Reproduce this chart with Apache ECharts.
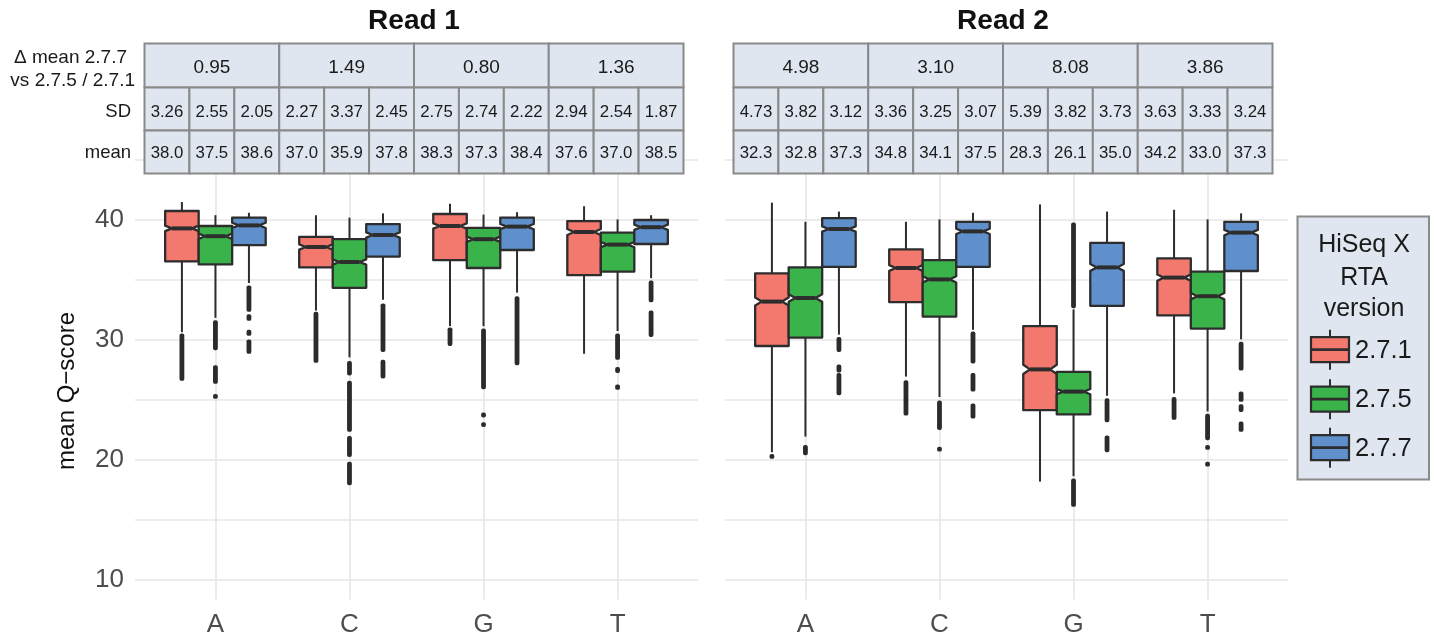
<!DOCTYPE html>
<html><head><meta charset="utf-8">
<script src="https://cdn.jsdelivr.net/npm/echarts@6/dist/echarts.min.js"></script>
<style>html,body{margin:0;padding:0;background:#fff}#c{width:1434px;height:634px}</style>
</head><body><div id="c"></div>
<script>
const categories = ['A','C','G','T'];
const versions = ['2.7.1','2.7.5','2.7.7'];
const yGridValues = [10,15,20,25,30,35,40,45];
const yTickLabels = [10,20,30,40];

// [whiskerLow, Q1, median, Q3, whiskerHigh] for A, C, G, T
const read1_v271 = [[30.6,36.5,39.25,40.7,41.45],[32.4,36.0,37.7,38.55,40.35],[31.1,36.6,39.45,40.45,41.3],[28.8,35.35,38.95,39.85,41.1]];
const read1_v275 = [[31.8,36.25,38.6,39.45,40.35],[28.5,34.3,36.45,38.35,40.15],[31.1,35.95,38.35,39.3,40.4],[30.7,35.65,37.9,38.9,40.0]];
const read1_v277 = [[34.7,37.85,39.5,40.15,40.55],[33.3,36.9,38.7,39.6,40.5],[33.9,37.45,39.4,40.15,40.6],[35.1,37.95,39.35,39.95,40.35]];
const read2_v271 = [[20.6,29.45,33.15,35.5,41.4],[26.9,33.1,35.95,37.5,39.8],[18.15,24.1,27.5,31.1,41.25],[25.5,32.0,35.15,36.75,40.8]];
const read2_v275 = [[21.9,30.15,33.45,36.0,39.8],[25.2,31.9,35.0,36.6,40.0],[18.6,23.75,25.65,27.3,32.5],[24.0,30.9,33.6,35.65,40.0]];
const read2_v277 = [[30.4,36.05,39.2,40.1,40.65],[30.8,36.05,39.0,39.8,40.55],[25.3,32.8,36.0,38.05,40.65],[30.0,35.7,38.9,39.8,40.5]];

// outliers: [categoryIndex, from, to] (runs of overlapping points)
const read1_v271_out = [[0,30.3,26.75],[1,32.1,28.25],[2,30.8,29.65]];
const read1_v275_out = [[0,31.4,29.3],[0,27.65,26.5],[0,25.25,25.25],[1,28.0,27.2],[1,26.35,22.5],[1,21.75,20.4],[1,19.6,18.05],[2,30.7,26.05],[2,23.7,23.7],[2,22.9,22.9],[3,30.3,28.5],[3,27.5,27.4],[3,26.05,26.0]];
const read1_v277_out = [[0,34.3,32.5],[0,31.9,31.75],[0,30.6,30.5],[0,29.8,29.0],[1,32.8,29.15],[1,28.1,26.95],[2,33.4,28.05],[3,34.7,33.3],[3,32.2,30.4]];
const read2_v271_out = [[0,20.25,20.25],[1,26.4,23.85],[3,25.0,23.5]];
const read2_v275_out = [[0,21.0,20.55],[1,24.7,22.65],[1,20.85,20.85],[2,39.55,32.8],[2,18.2,16.25],[3,23.6,21.8],[3,21.0,21.0],[3,19.6,19.6]];
const read2_v277_out = [[0,30.0,29.15],[0,27.7,27.45],[0,27.0,25.55],[1,30.45,28.2],[1,27.0,25.85],[1,24.45,23.6],[2,24.9,23.3],[2,21.8,20.8],[3,29.6,27.6],[3,25.45,25.0],[3,24.4,24.15],[3,22.95,22.5]];

// table values
const read1_delta = ['0.95','1.49','0.80','1.36'];
const read1_sd = [['3.26','2.55','2.05'],['2.27','3.37','2.45'],['2.75','2.74','2.22'],['2.94','2.54','1.87']];
const read1_mean = [['38.0','37.5','38.6'],['37.0','35.9','37.8'],['38.3','37.3','38.4'],['37.6','37.0','38.5']];
const read2_delta = ['4.98','3.10','8.08','3.86'];
const read2_sd = [['4.73','3.82','3.12'],['3.36','3.25','3.07'],['5.39','3.82','3.73'],['3.63','3.33','3.24']];
const read2_mean = [['32.3','32.8','37.3'],['34.8','34.1','37.5'],['28.3','26.1','35.0'],['34.2','33.0','37.3']];

const FONT = "'Liberation Sans', Arial, Helvetica, sans-serif";
const COLORS = ['#F3786E','#3AB44A','#5F90CB'];
const OFFSETS = [-0.25, 0, 0.25];
const BOX_W = 0.25;
const EDGE = '#2D2D2D';
const GRID_C = '#E6E6E6';

function boxItem(offset, color) {
  return function (params, api) {
    const x = api.value(0) + offset;
    const lo = api.value(1), q1 = api.value(2), med = api.value(3), q3 = api.value(4), hi = api.value(5);
    const nh = Math.max(0.22, 0.055 * (q3 - q1));
    const L = api.coord([x - BOX_W / 2, med])[0];
    const R = api.coord([x + BOX_W / 2, med])[0];
    const C = api.coord([x, med])[0];
    const Y = v => api.coord([x, v])[1];
    const ind = (R - L) * 0.2;
    const yM = Y(med), yA = Y(med + nh), yB = Y(med - nh), y3 = Y(q3), y1 = Y(q1);
    return {
      type: 'group',
      children: [
        {type:'line', shape:{x1:C,y1:Y(hi),x2:C,y2:y3}, style:{stroke:EDGE,lineWidth:2}},
        {type:'line', shape:{x1:C,y1:y1,x2:C,y2:Y(lo)}, style:{stroke:EDGE,lineWidth:2}},
        {type:'polygon', shape:{points:[[L,y3],[R,y3],[R,yA],[R-ind,yM],[R,yB],[R,y1],[L,y1],[L,yB],[L+ind,yM],[L,yA]]},
          style:{fill:color, stroke:EDGE, lineWidth:2.3, lineJoin:'round'}},
        {type:'line', shape:{x1:L+ind,y1:yM,x2:R-ind,y2:yM}, style:{stroke:EDGE,lineWidth:4}}
      ]
    };
  };
}
function outItem(offset) {
  return function (params, api) {
    const x = api.value(0) + offset;
    const a = api.value(1), b = api.value(2);
    const p1 = api.coord([x, Math.max(a, b)]);
    const p2 = api.coord([x, Math.min(a, b)]);
    const w = 4.8;
    return {type:'rect', shape:{x:p1[0]-w/2, y:p1[1]-w/2, width:w, height:p2[1]-p1[1]+w, r:1.9}, style:{fill:'#2B2B2B'}};
  };
}

const boxSets = [[read1_v271, read1_v275, read1_v277],[read2_v271, read2_v275, read2_v277]];
const outSets = [[read1_v271_out, read1_v275_out, read1_v277_out],[read2_v271_out, read2_v275_out, read2_v277_out]];

const series = [];
for (let g = 0; g < 2; g++) {
  for (let v = 0; v < 3; v++) {
    series.push({
      type:'custom', name: versions[v], xAxisIndex:g, yAxisIndex:g,
      renderItem: boxItem(OFFSETS[v], COLORS[v]),
      encode:{x:0, y:[1,2,3,4,5]},
      data: boxSets[g][v].map((b, i) => [i + 1].concat(b)),
      z: 3
    });
    series.push({
      type:'custom', name: versions[v] + ' outliers', xAxisIndex:g, yAxisIndex:g,
      renderItem: outItem(OFFSETS[v]),
      encode:{x:0, y:[1,2]},
      data: outSets[g][v].map(o => [o[0] + 1, o[1], o[2]]),
      z: 4
    });
  }
}

const grids = [
  {left:135, width:563, top:129.4, height:470.4, outerBoundsMode:'none', containLabel:false},
  {left:725, width:563, top:129.4, height:470.4, outerBoundsMode:'none', containLabel:false}
];
const xAxes = [0,1].map(g => ({
  type:'value', gridIndex:g, min:0.4, max:4.6,
  axisLine:{show:false}, axisTick:{show:false, customValues:[1,2,3,4]},
  axisLabel:{customValues:[1,2,3,4], formatter: v => categories[Math.round(v) - 1], fontSize:26, color:'#4D4D4D', margin:12, fontFamily:FONT},
  splitLine:{show:true, lineStyle:{color:GRID_C, width:1.6}}
}));
const yAxes = [0,1].map(g => ({
  type:'value', gridIndex:g, min:8.3, max:47.5,
  axisLine:{show:false}, axisTick:{show:false, customValues:yGridValues},
  axisLabel:{show:g === 0, customValues:yTickLabels, fontSize:26, color:'#4D4D4D', margin:11, fontFamily:FONT},
  splitLine:{show:true, lineStyle:{color:GRID_C, width:1.6}}
}));

function txt(t, x, y, size, opts) {
  opts = opts || {};
  return {type:'text', x:x, y:y, z:100, rotation: opts.rotation || 0,
    style:{text:t, font:(opts.bold ? 'bold ' : '') + size + 'px ' + FONT, fill: opts.color || '#1A1A1A',
      textAlign: opts.align || 'center', textVerticalAlign:'middle', align: opts.align || 'center', verticalAlign:'middle'}};
}
function rect(x, y, w, h) {
  return {type:'rect', z:99, shape:{x:x, y:y, width:w, height:h}, style:{fill:'#DFE6F0', stroke:'#8A8A8A', lineWidth:2}};
}
const graphics = [];
function table(left, right, delta, sd, mean) {
  const rows = [43.5, 87.5, 130.5, 173.5];
  const gw = (right - left) / 4, cw = gw / 3;
  for (let g = 0; g < 4; g++) {
    const gx = left + g * gw;
    graphics.push(rect(gx, rows[0], gw, rows[1] - rows[0]));
    graphics.push(txt(delta[g], gx + gw / 2, 67.5, 19));
    for (let k = 0; k < 3; k++) {
      const cx = gx + k * cw;
      graphics.push(rect(cx, rows[1], cw, rows[2] - rows[1]));
      graphics.push(rect(cx, rows[2], cw, rows[3] - rows[2]));
      graphics.push(txt(sd[g][k], cx + cw / 2, 112, 16.8));
      graphics.push(txt(mean[g][k], cx + cw / 2, 153, 16.8));
    }
  }
}
table(144.5, 683.5, read1_delta, read1_sd, read1_mean);
table(733.5, 1272.5, read2_delta, read2_sd, read2_mean);

graphics.push(txt('Read 1', 414, 21.5, 28, {bold:true, color:'#111'}));
graphics.push(txt('Read 2', 1003, 21.5, 28, {bold:true, color:'#111'}));
graphics.push(txt('\u0394 mean 2.7.7', 127, 58, 19, {align:'right'}));
graphics.push(txt('vs 2.7.5 / 2.7.1', 135, 81, 19, {align:'right'}));
graphics.push(txt('SD', 131, 111.5, 18.5, {align:'right'}));
graphics.push(txt('mean', 131, 152.5, 18.5, {align:'right'}));
graphics.push(txt('mean Q\u2212score', 67, 391, 24, {rotation: Math.PI / 2, color:'#111'}));

// legend
graphics.push({type:'rect', z:99, shape:{x:1297.5, y:216.5, width:131.5, height:263}, style:{fill:'#DFE6F0', stroke:'#8A8A8A', lineWidth:2}});
graphics.push(txt('HiSeq X', 1364, 245, 25));
graphics.push(txt('RTA', 1364, 278, 25));
graphics.push(txt('version', 1364, 309, 25));
const keyY = [349.7, 399.2, 447.7];
for (let k = 0; k < 3; k++) {
  const yc = keyY[k];
  graphics.push({type:'line', z:100, shape:{x1:1330, y1:yc-20, x2:1330, y2:yc+20}, style:{stroke:EDGE, lineWidth:2}});
  graphics.push({type:'rect', z:101, shape:{x:1311, y:yc-12.5, width:38, height:25}, style:{fill:COLORS[k], stroke:EDGE, lineWidth:2.2}});
  graphics.push({type:'line', z:102, shape:{x1:1311, y1:yc, x2:1349, y2:yc}, style:{stroke:EDGE, lineWidth:2.8}});
  graphics.push(txt(versions[k], 1355, yc + 1, 25.5, {align:'left'}));
}

const chart = echarts.init(document.getElementById('c'), null, {renderer:'canvas'});
chart.setOption({
  animation:false,
  backgroundColor:'#fff',
  grid: grids,
  xAxis: xAxes,
  yAxis: yAxes,
  series: series,
  graphic: graphics
});
</script></body></html>
